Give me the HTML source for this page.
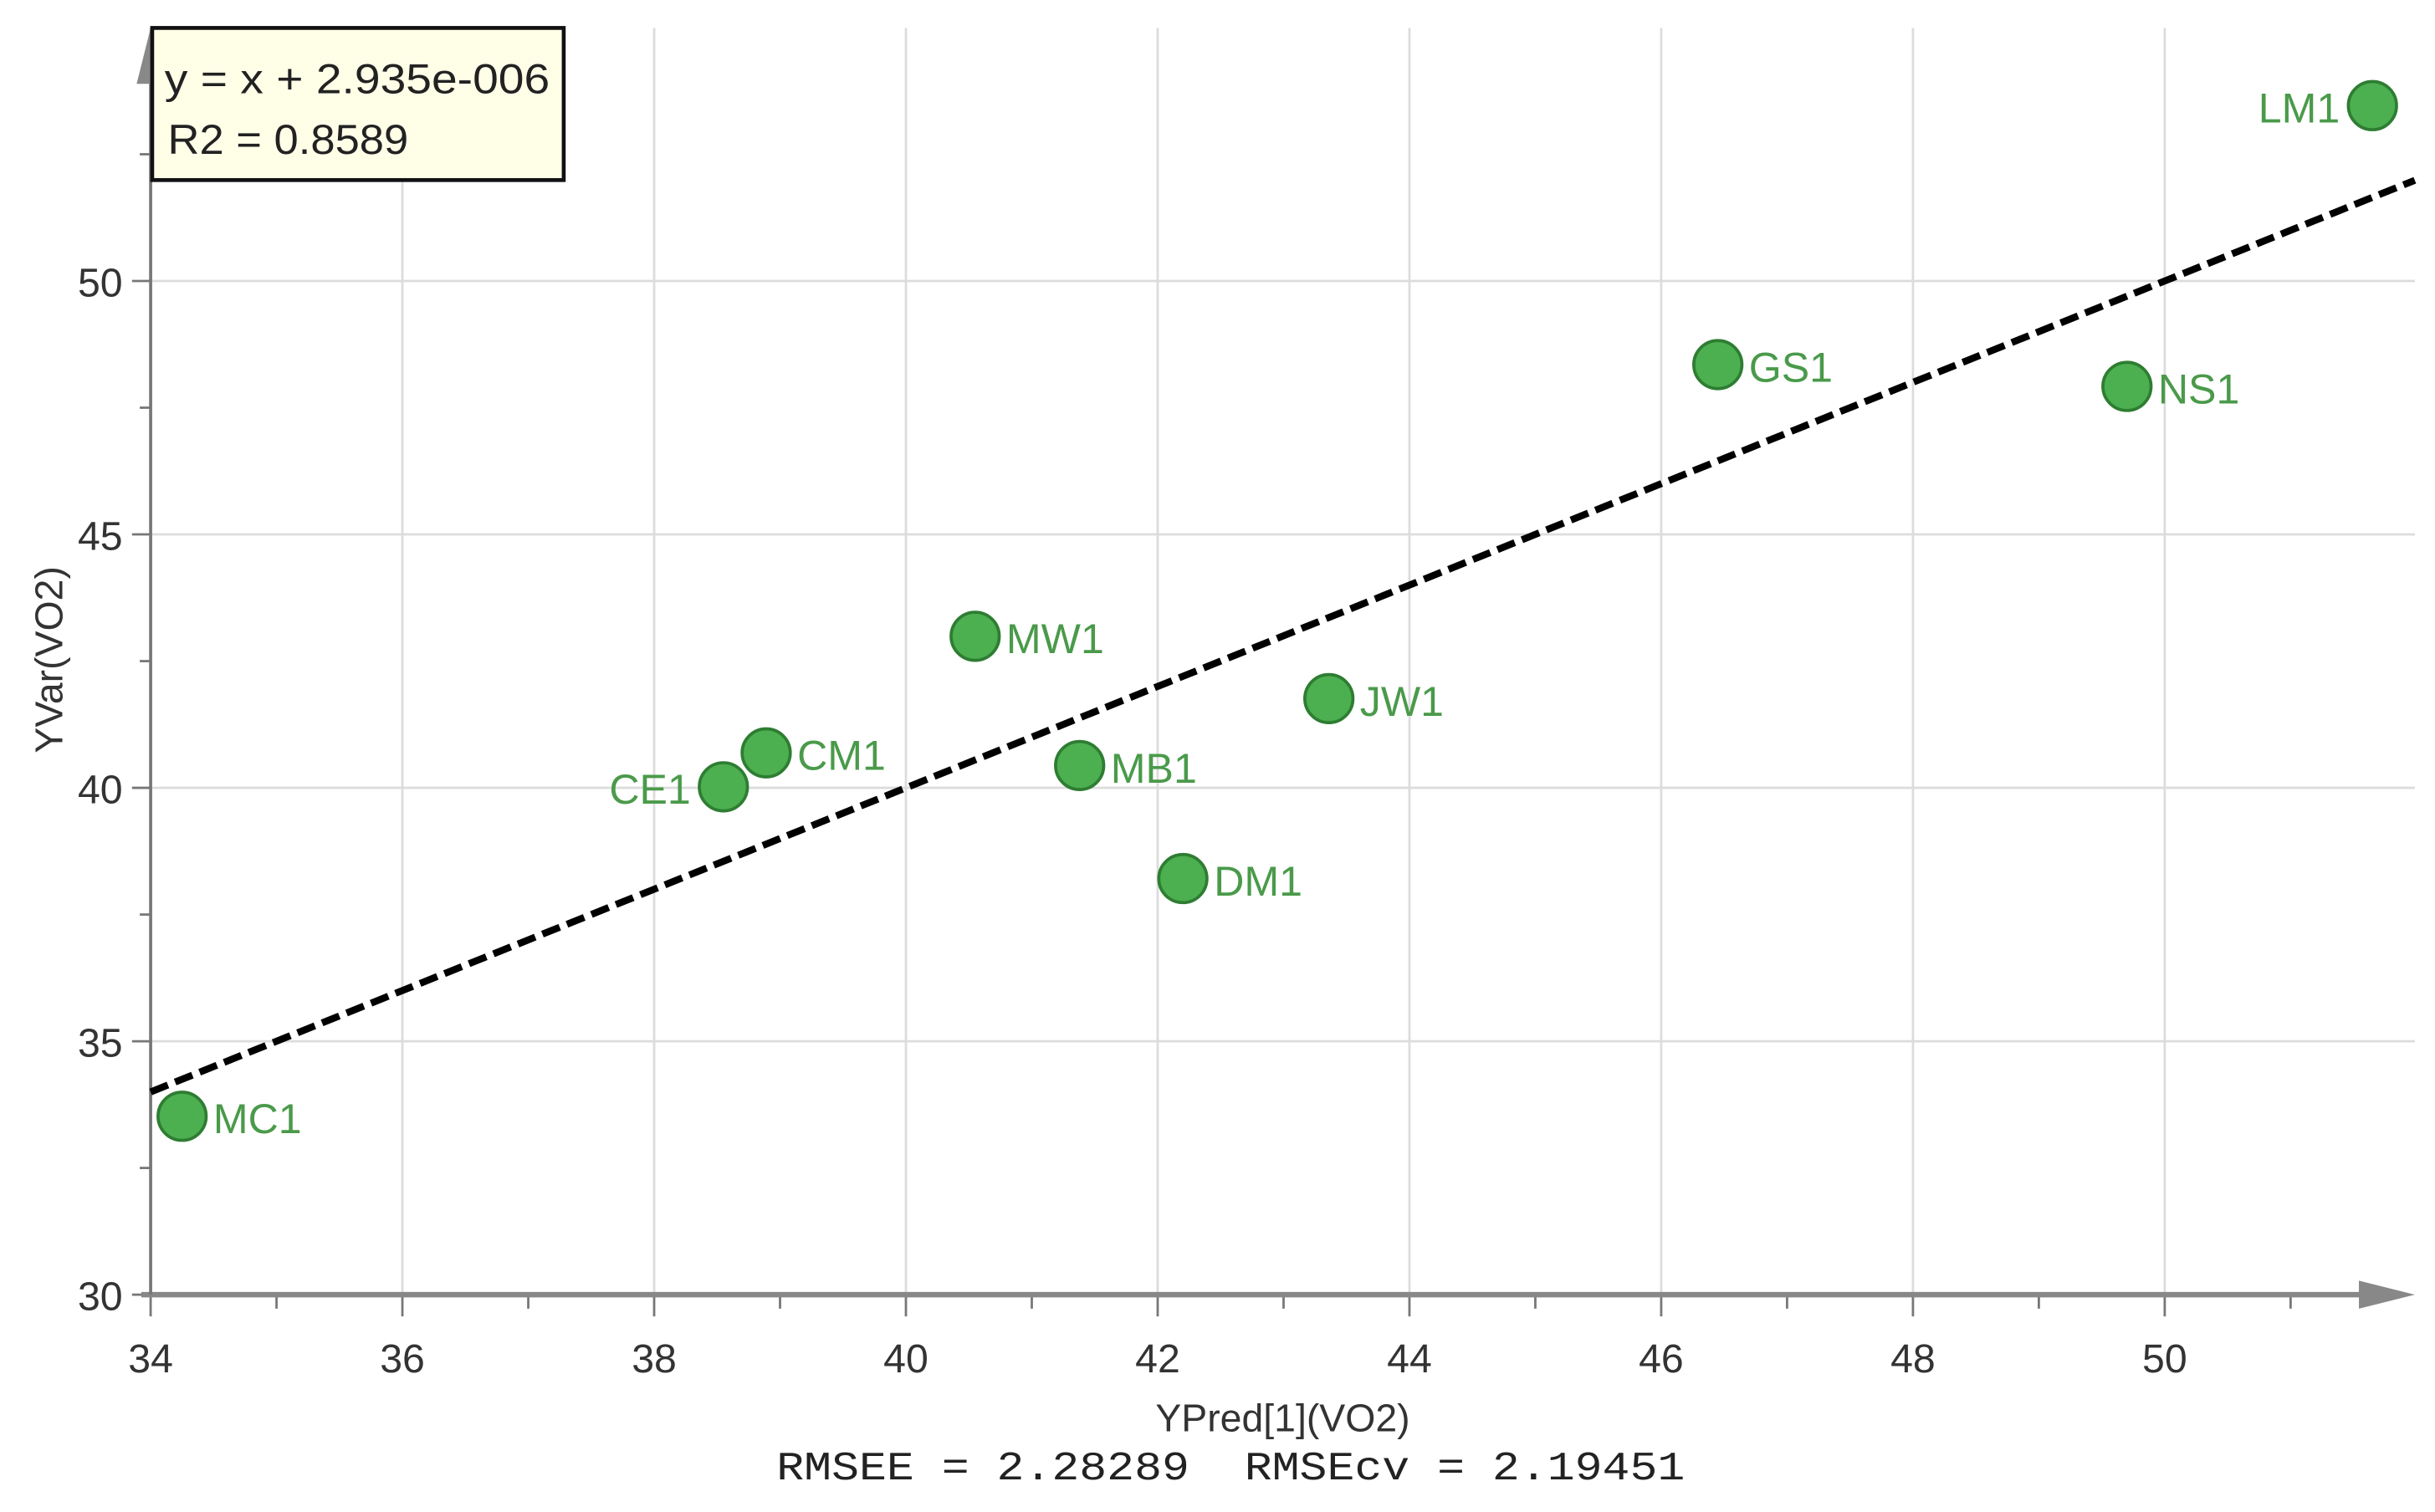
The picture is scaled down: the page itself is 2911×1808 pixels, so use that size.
<!DOCTYPE html>
<html><head><meta charset="utf-8"><style>
html,body{margin:0;padding:0;background:#fff;}
svg{display:block;}
text{font-family:"Liberation Sans",sans-serif;}
</style></head><body>
<svg id="chart" width="2911" height="1808" viewBox="0 0 1568 974" preserveAspectRatio="none" xmlns="http://www.w3.org/2000/svg">
<g id="grid"></g>
<g id="axes"></g>
<g id="fit"></g>
<g id="points"></g>
<g>
<rect x="98" y="18" width="265" height="98" fill="#ffffe8" stroke="#111" stroke-width="2.5"/>
<text x="106" y="60" font-size="27" fill="#222" textLength="248" lengthAdjust="spacingAndGlyphs">y = x + 2.935e-006</text>
<text x="108" y="99" font-size="27" fill="#222" textLength="155" lengthAdjust="spacingAndGlyphs">R2 = 0.8589</text>
</g>
<text x="826" y="922" font-size="25" fill="#333" text-anchor="middle">YPred[1](VO2)</text>
<text x="500" y="953" font-size="26" fill="#222" xml:space="preserve" textLength="585" lengthAdjust="spacingAndGlyphs" style="font-family:'Liberation Mono',monospace">RMSEE = 2.28289  RMSEcv = 2.19451</text>
<text transform="translate(40,425) rotate(-90)" font-size="25" fill="#333" text-anchor="middle">YVar(VO2)</text>
</svg>
<script>
const labels = ["LM1","GS1","NS1","MW1","JW1","CM1","CE1","MB1","DM1","MC1"];
const xPred = [51.65,46.45,49.70,40.55,43.36,38.89,38.55,41.38,42.20,34.25];
const yVar = [53.46,48.35,47.92,42.99,41.76,40.69,40.02,40.44,38.21,33.52];
const labelLeft = [true,false,false,false,false,false,true,false,false,false];
const xTicks = [34,36,38,40,42,44,46,48,50];
const yTicks = [30,35,40,45,50];
const fitSlope = 1, fitIntercept = 0.000002935;

const NS="http://www.w3.org/2000/svg";
const X0=97, XS=81.06, Y0=834, YS=32.65, XR=1555, YT=18;
const sx = v => X0 + (v-34)*XS;
const sy = v => Y0 - (v-30)*YS;
function mk(tag, attrs, parent){const e=document.createElementNS(NS,tag);for(const k in attrs)e.setAttribute(k,attrs[k]);parent.appendChild(e);return e;}
const grid=document.getElementById('grid'), axes=document.getElementById('axes'), fit=document.getElementById('fit'), pts=document.getElementById('points');

xTicks.forEach(t=>{
  const l=mk('line',{x1:sx(t),x2:sx(t),y1:YT,y2:Y0,stroke:'#dcdcdc','stroke-width':1.5},grid);
  
  
  const tk=mk('line',{x1:sx(t),x2:sx(t),y1:Y0,y2:Y0+14,stroke:'#777','stroke-width':1.5},axes);
  
  
  const m=mk('line',{x1:sx(t+1),x2:sx(t+1),y1:Y0,y2:Y0+9,stroke:'#777','stroke-width':1.5},axes);
  
  
  const tx=mk('text',{x:sx(t),y:884,'font-size':26,fill:'#333','text-anchor':'middle'},axes);
  tx.textContent=t;
  
  
});
yTicks.forEach(t=>{
  if(t>30){const l=mk('line',{x1:X0,x2:XR,y1:sy(t),y2:sy(t),stroke:'#dcdcdc','stroke-width':1.5},grid);
  
  }
  const tk=mk('line',{x1:X0-12,x2:X0,y1:sy(t),y2:sy(t),stroke:'#777','stroke-width':1.5},axes);
  
  
  const m=mk('line',{x1:X0-7,x2:X0,y1:sy(t+2.5),y2:sy(t+2.5),stroke:'#777','stroke-width':1.5},axes);
  
  
  const tx=mk('text',{x:79,y:sy(t)+10,'font-size':26,fill:'#333','text-anchor':'end'},axes);
  tx.textContent=t;
  
  
});
const xa=mk('line',{x1:X0-6,x2:XR-30,y1:Y0,y2:Y0,stroke:'#888','stroke-width':3.5},axes);


const xar=mk('polygon',{points:`${XR-36},${Y0-9} ${XR},${Y0} ${XR-36},${Y0+9}`,fill:'#888'},axes);


const ya=mk('line',{x1:X0,x2:X0,y1:YT+30,y2:Y0,stroke:'#777','stroke-width':2},axes);


const yar=mk('polygon',{points:`${X0-9},${YT+36} ${X0},${YT} ${X0+9},${YT+36}`,fill:'#888'},axes);



const xEnd=34+(XR-X0)/XS;
const fl=mk('line',{x1:sx(34),y1:sy(fitSlope*34+fitIntercept),x2:sx(xEnd),y2:sy(fitSlope*xEnd+fitIntercept),stroke:'#000','stroke-width':4.5,'stroke-dasharray':'12 5'},fit);



labels.forEach((lb,i)=>{
  const cx=sx(xPred[i]), cy=sy(yVar[i]);
  const c=mk('circle',{cx:cx,cy:cy,r:15.5,fill:'#4caf50',stroke:'#2e7d32','stroke-width':2},pts);
  
  
  const t=mk('text',{x:labelLeft[i]?cx-21:cx+20,y:cy+11,'font-size':27,fill:'#4a9a4a','text-anchor':labelLeft[i]?'end':'start'},pts);
  t.textContent=lb;
  
  
});
</script>
</body></html>
